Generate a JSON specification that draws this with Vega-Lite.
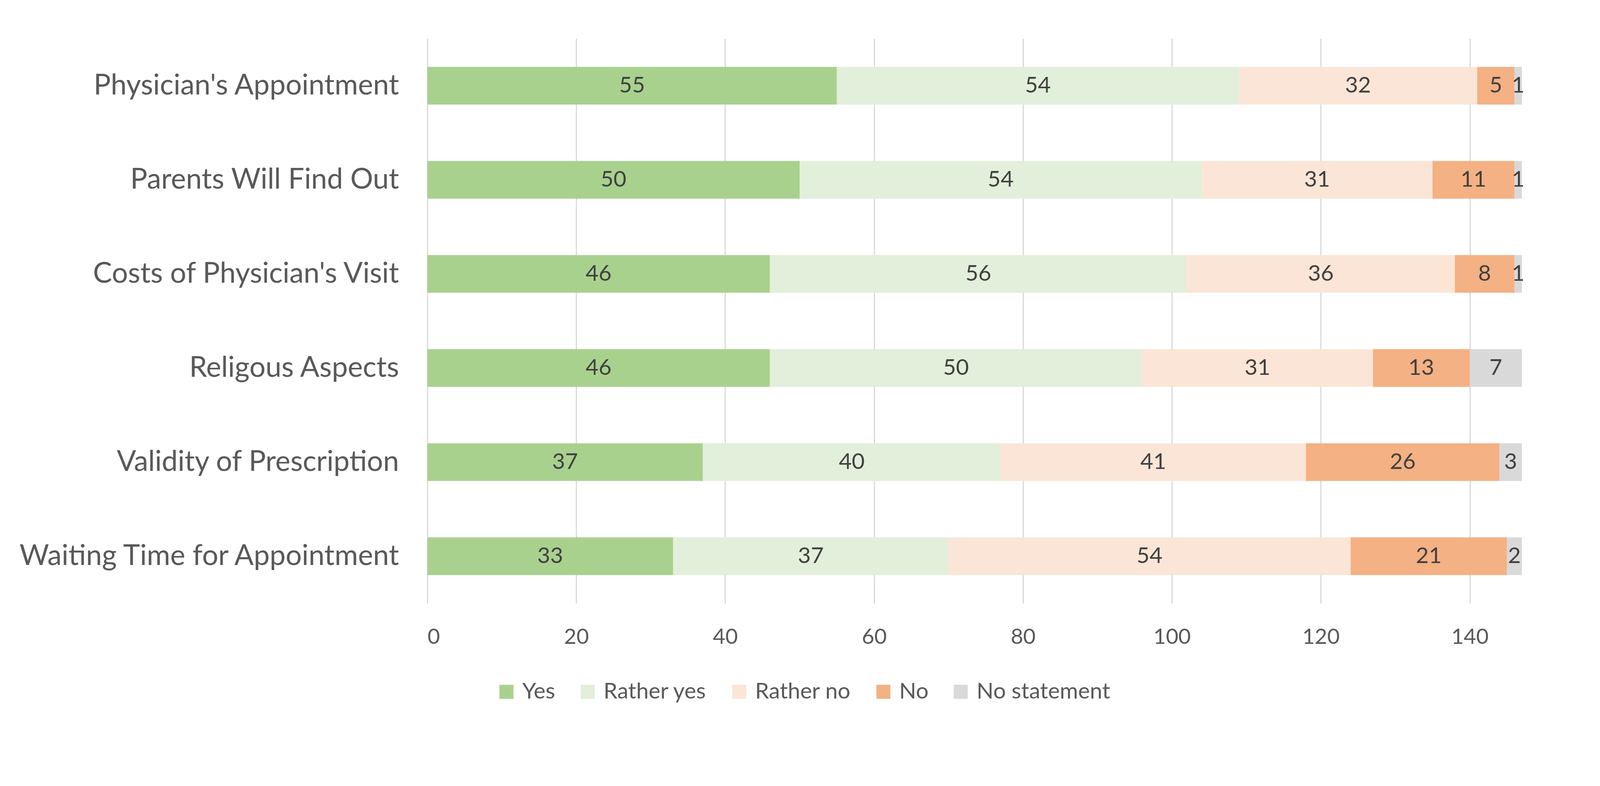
{
  "$schema": "https://vega.github.io/schema/vega-lite/v6.json",
  "width": 2821,
  "height": 1446,
  "autosize": {"type": "none"},
  "padding": {"left": 1094, "top": 99, "right": 181, "bottom": 342},
  "background": "white",
  "config": {"view": {"stroke": null}, "font": "Lato"},
  "data": {"values": [
    {"item": "Physician's Appointment", "category": "Yes", "order": 1, "value": 55},
    {"item": "Physician's Appointment", "category": "Rather yes", "order": 2, "value": 54},
    {"item": "Physician's Appointment", "category": "Rather no", "order": 3, "value": 32},
    {"item": "Physician's Appointment", "category": "No", "order": 4, "value": 5},
    {"item": "Physician's Appointment", "category": "No statement", "order": 5, "value": 1},
    {"item": "Parents Will Find Out", "category": "Yes", "order": 1, "value": 50},
    {"item": "Parents Will Find Out", "category": "Rather yes", "order": 2, "value": 54},
    {"item": "Parents Will Find Out", "category": "Rather no", "order": 3, "value": 31},
    {"item": "Parents Will Find Out", "category": "No", "order": 4, "value": 11},
    {"item": "Parents Will Find Out", "category": "No statement", "order": 5, "value": 1},
    {"item": "Costs of Physician's Visit", "category": "Yes", "order": 1, "value": 46},
    {"item": "Costs of Physician's Visit", "category": "Rather yes", "order": 2, "value": 56},
    {"item": "Costs of Physician's Visit", "category": "Rather no", "order": 3, "value": 36},
    {"item": "Costs of Physician's Visit", "category": "No", "order": 4, "value": 8},
    {"item": "Costs of Physician's Visit", "category": "No statement", "order": 5, "value": 1},
    {"item": "Religous Aspects", "category": "Yes", "order": 1, "value": 46},
    {"item": "Religous Aspects", "category": "Rather yes", "order": 2, "value": 50},
    {"item": "Religous Aspects", "category": "Rather no", "order": 3, "value": 31},
    {"item": "Religous Aspects", "category": "No", "order": 4, "value": 13},
    {"item": "Religous Aspects", "category": "No statement", "order": 5, "value": 7},
    {"item": "Validity of Prescription", "category": "Yes", "order": 1, "value": 37},
    {"item": "Validity of Prescription", "category": "Rather yes", "order": 2, "value": 40},
    {"item": "Validity of Prescription", "category": "Rather no", "order": 3, "value": 41},
    {"item": "Validity of Prescription", "category": "No", "order": 4, "value": 26},
    {"item": "Validity of Prescription", "category": "No statement", "order": 5, "value": 3},
    {"item": "Waiting Time for Appointment", "category": "Yes", "order": 1, "value": 33},
    {"item": "Waiting Time for Appointment", "category": "Rather yes", "order": 2, "value": 37},
    {"item": "Waiting Time for Appointment", "category": "Rather no", "order": 3, "value": 54},
    {"item": "Waiting Time for Appointment", "category": "No", "order": 4, "value": 21},
    {"item": "Waiting Time for Appointment", "category": "No statement", "order": 5, "value": 2}
  ]},
  "transform": [
    {"stack": "value", "groupby": ["item"], "sort": [{"field": "order"}], "as": ["x0", "x1"]},
    {"calculate": "(datum.x0 + datum.x1) / 2", "as": "mid"}
  ],
  "encoding": {
    "y": {
      "field": "item",
      "type": "nominal",
      "sort": ["Physician's Appointment", "Parents Will Find Out", "Costs of Physician's Visit", "Religous Aspects", "Validity of Prescription", "Waiting Time for Appointment"],
      "scale": {"paddingInner": 0.6, "paddingOuter": 0.3},
      "axis": {"title": null, "domain": false, "ticks": false, "labelPadding": 73, "labelFontSize": 73, "labelColor": "#595959", "labelFont": "Lato", "labelLimit": 0}
    }
  },
  "layer": [
    {
      "mark": {"type": "bar"},
      "encoding": {
        "x": {
          "field": "x0", "type": "quantitative",
          "scale": {"domain": [0, 148], "nice": false, "zero": true},
          "axis": {"title": null, "domain": false, "ticks": false, "values": [0, 20, 40, 60, 80, 100, 120, 140], "grid": true, "gridColor": "#D9D9D9", "gridWidth": 3, "labelFontSize": 55, "labelColor": "#595959", "labelPadding": 60, "labelFont": "Lato"}
        },
        "x2": {"field": "x1"},
        "color": {
          "field": "category", "type": "nominal",
          "scale": {"domain": ["Yes", "Rather yes", "Rather no", "No", "No statement"], "range": ["#A9D18E", "#E2EFDA", "#FBE5D6", "#F4B183", "#D9D9D9"]},
          "legend": {"title": null, "orient": "none", "legendX": 174, "legendY": 1644, "direction": "horizontal", "symbolType": "square", "symbolSize": 1296, "symbolStrokeWidth": 0, "labelFontSize": 57, "labelColor": "#595959", "labelFont": "Lato", "labelOffset": 12, "columnPadding": 54, "labelLimit": 0}
        }
      }
    },
    {
      "mark": {"type": "text", "align": "center", "baseline": "middle", "fontSize": 57, "color": "#404040", "font": "Lato"},
      "encoding": {
        "x": {"field": "mid", "type": "quantitative"},
        "text": {"field": "value", "type": "quantitative"}
      }
    }
  ]
}
